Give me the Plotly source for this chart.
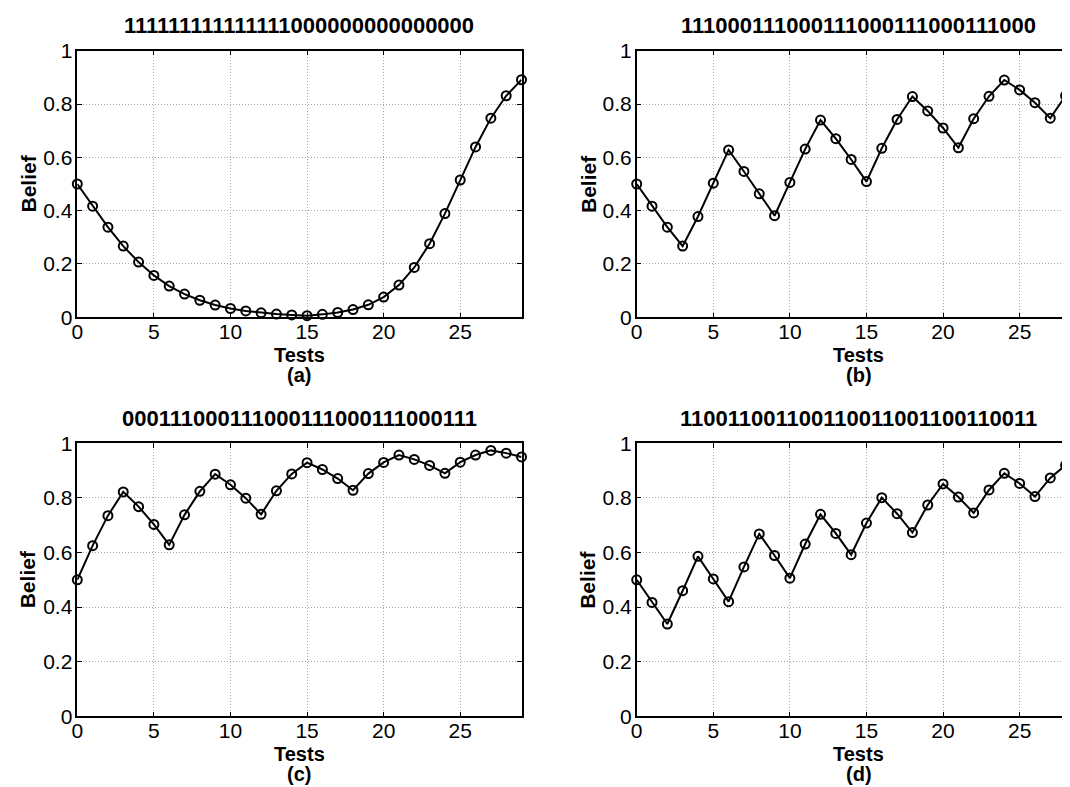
import plotly.graph_objects as go
from plotly.subplots import make_subplots

# belief after each test
tests = list(range(30))

seq_a = "111111111111111000000000000000"
belief_a = [0.500, 0.417, 0.338, 0.267, 0.207, 0.157, 0.117, 0.087, 0.064, 0.046,
            0.033, 0.024, 0.017, 0.012, 0.009, 0.006, 0.011, 0.018, 0.029, 0.047,
            0.076, 0.121, 0.187, 0.276, 0.389, 0.515, 0.639, 0.747, 0.831, 0.891]

seq_b = "111000111000111000111000111000"
belief_b = [0.500, 0.417, 0.338, 0.267, 0.378, 0.503, 0.628, 0.547, 0.463, 0.381,
            0.506, 0.631, 0.740, 0.670, 0.592, 0.509, 0.634, 0.742, 0.828, 0.774,
            0.710, 0.636, 0.745, 0.829, 0.890, 0.853, 0.805, 0.747, 0.831, 0.891]

seq_c = "000111000111000111000111000111"
belief_c = [0.500, 0.625, 0.735, 0.822, 0.768, 0.703, 0.628, 0.738, 0.824, 0.887,
            0.848, 0.799, 0.740, 0.826, 0.888, 0.929, 0.904, 0.871, 0.828, 0.889,
            0.930, 0.957, 0.941, 0.919, 0.890, 0.931, 0.957, 0.974, 0.964, 0.950]

seq_d = "110011001100110011001100110011"
belief_d = [0.500, 0.417, 0.338, 0.460, 0.586, 0.503, 0.420, 0.547, 0.668, 0.589,
            0.506, 0.631, 0.740, 0.670, 0.592, 0.708, 0.801, 0.742, 0.673, 0.774,
            0.851, 0.803, 0.745, 0.829, 0.890, 0.853, 0.805, 0.873, 0.920, 0.891]

panel_labels = ["(a)", "(b)", "(c)", "(d)"]
x_ticks = [0, 5, 10, 15, 20, 25]
y_ticks = [0, 0.2, 0.4, 0.6, 0.8, 1]
y_ticktext = ["0", "0.2", "0.4", "0.6", "0.8", "1"]

W, H = 1070, 787
FONT = "Liberation Sans, Arial, Helvetica, sans-serif"


def px(x):
    return x / W


def py(y):
    return 1 - y / H


panels = [
    (seq_a, belief_a, 1, 1),
    (seq_b, belief_b, 1, 2),
    (seq_c, belief_c, 2, 1),
    (seq_d, belief_d, 2, 2),
]

fig = make_subplots(rows=2, cols=2)

for seq, belief, r, c in panels:
    fig.add_trace(go.Scatter(
        x=tests, y=belief, mode="lines+markers",
        line=dict(color="black", width=2),
        marker=dict(symbol="circle-open", size=9, color="black", line=dict(width=2)),
        cliponaxis=False, showlegend=False,
    ), row=r, col=c)

# pixel geometry of the axes boxes (right column is cut off by the image edge)
unit = (513.5 - 69.3) / 29
x_dom = {1: [px(69.3), px(513.5)], 2: [px(628.7), 1.0]}
x_rng = {1: [0, 29], 2: [0, (W - 628.7) / unit]}
y_dom = {1: [py(309.3), py(42.7)], 2: [py(708.3), py(435.3)]}
x_mid = {1: (69.3 + 513.5) / 2, 2: 628.7 + 29 * unit / 2}
y_top = {1: 42.7, 2: 435.3}
y_bot = {1: 309.3, 2: 708.3}
belief_x = {1: 19.5, 2: 580}

axis_style = dict(
    showline=True, linecolor="black", linewidth=1.5, automargin=False,
    ticks="inside", ticklen=5, tickcolor="black", tickwidth=1,
    showgrid=True, gridcolor="#a8a8a8", griddash="1px,2px", gridwidth=1,
    zeroline=False, tickfont=dict(family=FONT, size=21, color="black"),
)

for r in (1, 2):
    for c in (1, 2):
        fig.update_xaxes(domain=x_dom[c], range=x_rng[c], tickvals=x_ticks,
                         mirror="ticks", ticklabelstandoff=-5,
                         **axis_style, row=r, col=c)
        fig.update_yaxes(domain=y_dom[r], range=[0, 1], tickvals=y_ticks,
                         ticktext=y_ticktext, ticklabelstandoff=-1,
                         mirror="ticks" if c == 1 else False,
                         **axis_style, row=r, col=c)

annotations = []
i = 0
for seq, belief, r, c in panels:
    annotations.append(dict(
        text="<b>%s</b>" % seq, x=px(x_mid[c]), y=py(y_top[r] - 25),
        font=dict(family=FONT, size=22, color="black")))
    annotations.append(dict(
        text="<b>Tests</b>", x=px(x_mid[c]), y=py(y_bot[r] + 38),
        font=dict(family=FONT, size=20, color="black")))
    annotations.append(dict(
        text="<b>%s</b>" % panel_labels[i], x=px(x_mid[c]), y=py(y_bot[r] + 58),
        font=dict(family=FONT, size=20, color="black")))
    annotations.append(dict(
        text="<b>Belief</b>", x=px(belief_x[c]), y=py((y_top[r] + y_bot[r]) / 2),
        textangle=-90, font=dict(family=FONT, size=21, color="black")))
    i += 1

for a in annotations:
    a.update(xref="paper", yref="paper", showarrow=False,
             xanchor="center", yanchor="middle")

fig.update_layout(
    width=W, height=H,
    margin=dict(l=0, r=0, t=0, b=0),
    paper_bgcolor="white", plot_bgcolor="white",
    font=dict(family=FONT, color="black"),
    annotations=annotations,
)

fig.write_html("out.html")
